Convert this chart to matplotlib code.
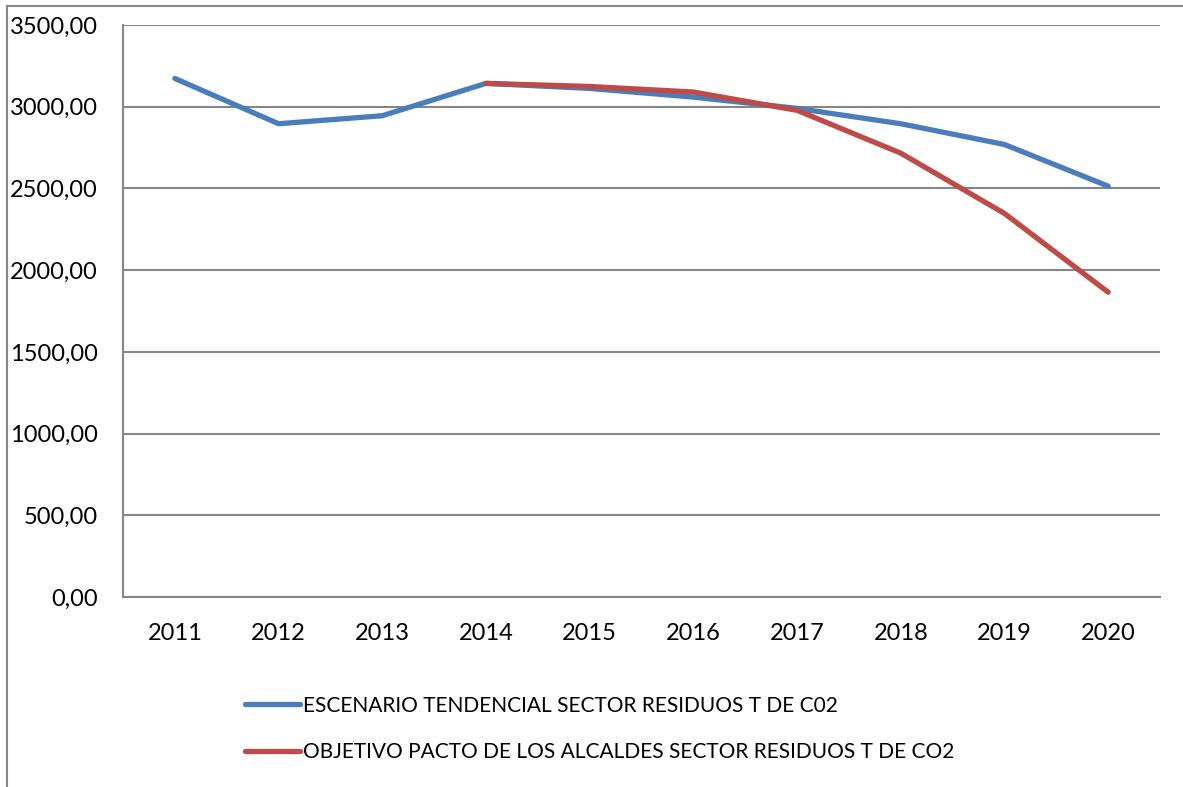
import matplotlib
matplotlib.use('Agg')
import matplotlib.pyplot as plt
from matplotlib.lines import Line2D

plt.rcParams['font.family'] = ['Lato', 'DejaVu Sans']

# datos
years = ['2011', '2012', '2013', '2014', '2015', '2016', '2017', '2018', '2019', '2020']
tendencial = [3173, 2896, 2945, 3143, 3112, 3059, 2990, 2896, 2769, 2514]
objetivo_years = ['2014', '2015', '2016', '2017', '2018', '2019', '2020']
objetivo = [3143, 3124, 3090, 2978, 2716, 2347, 1865]

label_tend = 'ESCENARIO TENDENCIAL SECTOR RESIDUOS T DE C02'
label_obj = 'OBJETIVO PACTO DE LOS ALCALDES SECTOR RESIDUOS T DE CO2'

blue = '#4A7EBB'
red = '#BE4B48'
grid_col = '#868686'

fig = plt.figure(figsize=(11.83, 7.87), dpi=100)
ax = fig.add_axes([0.104, 0.2414, 0.8766, 0.7268])

x_all = list(range(len(years)))
x_obj = [years.index(y) for y in objetivo_years]

ax.plot(x_all, tendencial, color=blue, lw=3.8, solid_capstyle='round', solid_joinstyle='round', label=label_tend)
ax.plot(x_obj, objetivo, color=red, lw=3.8, solid_capstyle='round', solid_joinstyle='round', label=label_obj)

ax.set_xlim(-0.5, len(years) - 0.5)
ax.set_ylim(0, 3500)
ax.set_yticks(range(0, 3501, 500))
ax.set_yticklabels([f'{v},00' for v in range(0, 3501, 500)])
ax.set_xticks(x_all)
ax.set_xticklabels(years)
ax.tick_params(length=0, labelsize=17, colors='black')
ax.tick_params(axis='y', pad=18)
ax.tick_params(axis='x', pad=19)

ax.yaxis.grid(True, color=grid_col, lw=1.5)
ax.set_axisbelow(True)
for s in ['top', 'right']:
    ax.spines[s].set_visible(False)
for s in ['left', 'bottom']:
    ax.spines[s].set_color(grid_col)
    ax.spines[s].set_linewidth(1.5)

# marco exterior del gráfico (recortado)
fig.add_artist(Line2D([0.006, 0.006], [0, 0.992], color=grid_col, lw=1.5, transform=fig.transFigure))
fig.add_artist(Line2D([0.006, 1.0], [0.992, 0.992], color=grid_col, lw=1.5, transform=fig.transFigure))

fig.legend(loc='upper left', bbox_to_anchor=(0.207, 0.116), frameon=False,
           fontsize=15, handlelength=2.65, handletextpad=0.15, labelspacing=1.28,
           borderaxespad=0, borderpad=0)

fig.savefig('out.png', dpi=100)
